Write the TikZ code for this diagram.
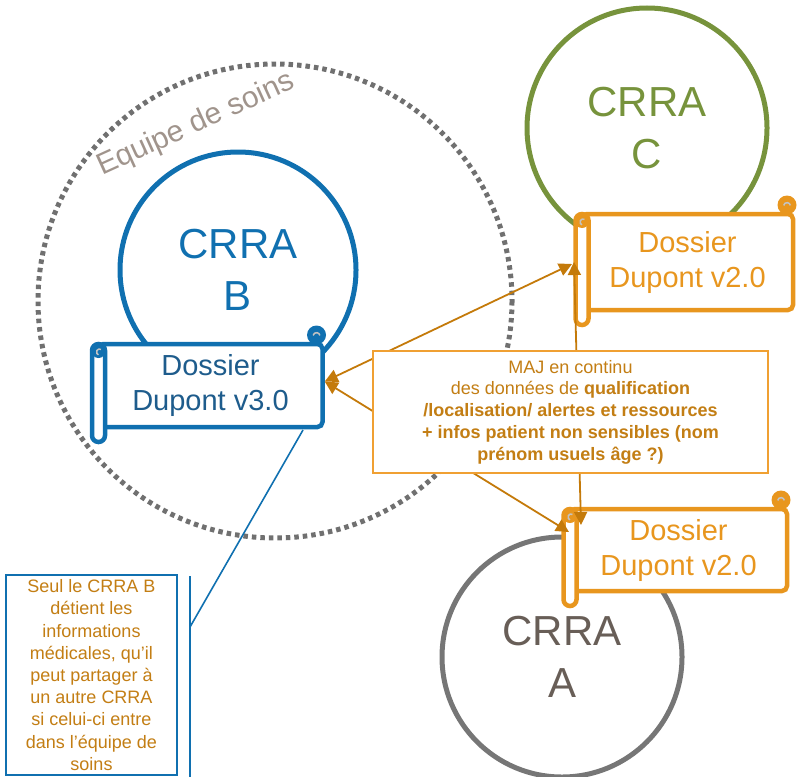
\documentclass[tikz,border=0pt]{standalone}
\usepackage{fontspec}
\setmainfont{Liberation Sans}
\usetikzlibrary{arrows.meta,calc}

\definecolor{bleuB}{RGB}{16,112,176}
\definecolor{bleuTxt}{RGB}{30,92,140}
\definecolor{vertC}{RGB}{119,147,60}
\definecolor{grisA}{RGB}{118,118,118}
\definecolor{grisTxt}{RGB}{104,94,87}
\definecolor{orangeDos}{RGB}{232,150,30}
\definecolor{orangeFl}{RGB}{196,122,10}
\definecolor{orangeCadre}{RGB}{240,160,50}
\definecolor{orangeTxt}{RGB}{195,126,20}
\definecolor{pointille}{RGB}{112,112,112}
\definecolor{taupe}{RGB}{160,148,140}
\definecolor{marque}{RGB}{195,195,195}

\tikzset{
  crra/.style={circle, line width=5pt, inner sep=0pt, minimum size=240pt,
    align=center, font=\fontsize{42}{52}\selectfont},
  scrollbody/.style={rectangle, fill=white, line width=4.5pt, rounded corners=5pt,
    inner sep=0pt, align=center, font=\fontsize{29}{35}\selectfont},
  rollbar/.style={fill=white, line width=4.5pt, rounded corners=6.5pt},
  curlmark/.style={draw=marque, line width=1.5pt},
  fleche/.style={draw=orangeFl, line width=1.8pt,
    {Triangle[length=13pt,width=13pt]}-{Triangle[length=13pt,width=13pt]}},
  infobox/.style={rectangle, draw=orangeCadre, line width=2pt, fill=white,
    inner sep=0pt, align=center, text=orangeTxt, font=\fontsize{18}{21.7}\selectfont},
  notebox/.style={rectangle, draw=bleuB, line width=1.8pt, fill=white,
    inner sep=0pt, align=center, text=orangeTxt, font=\fontsize{18}{22.2}\selectfont},
  leader/.style={draw=bleuB, line width=1.6pt},
}

% Scroll-shaped file: #1 name, #2 frame colour, #3 text colour,
% #4 roll axis x, #5 top y, #6 right x, #7 bottom y, #8 text
\newcommand\dossier[8]{%
  \node[scrollbody, draw=#2, text=#3, minimum width={(#6-#4)*1pt},
    minimum height={(#7-#5)*1pt}] (#1) at ({(#4+#6)/2},{(#5+#7)/2}) {#8};
  \draw[rollbar, draw=#2] (#4-6.5,#5) rectangle (#4+6.5,#7+15);
  \fill[#2] (#4,#5+7) circle (7);
  \draw[curlmark] (#4+1,#5+8) ++(300:3) arc[start angle=300, end angle=110, radius=3];
  \fill[#2] (#6-6,#5-9) circle (9.5);
  \draw[curlmark] (#6-6,#5-8) ++(190:3.4) arc[start angle=190, end angle=350, radius=3.4];
}

\begin{document}
\begin{tikzpicture}[x=1pt,y=-1pt]
\useasboundingbox (0,0) rectangle (799,776);

% care team boundary
\draw[pointille, line width=5pt, dash pattern=on 4.5pt off 4pt] (275,301) circle (237);
\node[rotate=24.5, anchor=base west, text=taupe, inner sep=0pt,
  font=\fontsize{30}{36}\selectfont] (equipe) at (102,176) {Equipe de soins};

% regulation centres
\node[crra, draw=bleuB, text=bleuB, minimum size=236pt] (crraB) at (238,270) {CRRA\\B};
\node[crra, draw=vertC, text=vertC] (crraC) at (647,128) {CRRA\\C};
\node[crra, draw=grisA, text=grisTxt] (crraA) at (562,657) {CRRA\\A};

% patient files
\dossier{dosB}{bleuB}{bleuTxt}{98.5}{344}{322.5}{427}{\raisebox{-3pt}{\begin{tabular}{@{}c@{}}Dossier\\[-0pt]Dupont v3.0\end{tabular}}}
\dossier{dosC}{orangeDos}{orangeDos}{582}{214}{793}{310}{Dossier\\Dupont v2.0}
\dossier{dosA}{orangeDos}{orangeDos}{570}{509}{787}{591}{Dossier\\Dupont v2.0}

% synchronisation links
\coordinate (pB) at ([yshift=4pt]dosB.east);
\coordinate (cBC) at (572,264);
\coordinate (cCA) at (574,262);
\coordinate (aBA) at (569,532);
\coordinate (aCA) at (581,525);
\draw[fleche] (pB) -- (cBC);
\draw[fleche] (pB) -- (aBA);
\draw[fleche] (cCA) -- (aCA);

\node[infobox, minimum width=395pt, minimum height=122pt] (maj) at (570.5,412)
  {MAJ en continu\\
   des données de \textbf{qualification}\\
   \textbf{/localisation/ alertes et ressources}\\
   \textbf{+ infos patient non sensibles (nom}\\
   \textbf{prénom usuels âge ?)}};

% callout on medical data
\node[notebox, minimum width=171pt, minimum height=200pt] (note) at (91.5,675)
  {Seul le CRRA B\\détient les\\informations\\médicales, qu’il\\peut partager à\\un autre CRRA\\si celui-ci entre\\dans l’équipe de\\soins};
\coordinate (barTop) at (190,576);
\coordinate (barBot) at (190,778);
\coordinate (knee) at (190,627);
\coordinate (lead) at (303,430);
\draw[leader] (barTop) -- (barBot);
\draw[leader] (knee) -- (lead);
\end{tikzpicture}
\end{document}
